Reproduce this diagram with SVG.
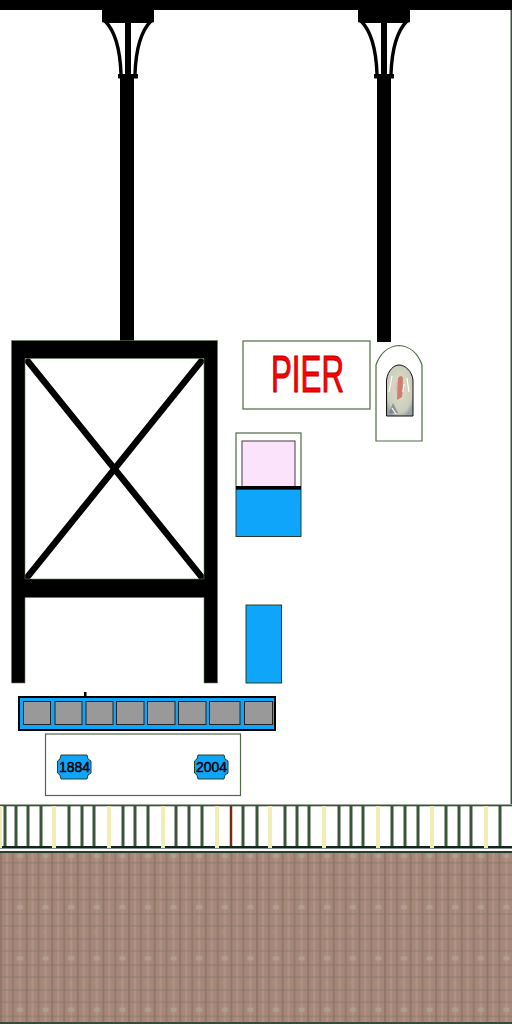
<svg xmlns="http://www.w3.org/2000/svg" width="512" height="1024" viewBox="0 0 512 1024">
<style>
.blk{fill:#000;stroke:#5f7f55;stroke-width:.6}
.box{fill:#fff;stroke:#4f6b45;stroke-width:1.2}
.blue{fill:#0fa5fb;stroke:#24402a;stroke-width:1}
.cell{fill:#999;stroke:#222;stroke-width:1}
.bar{stroke:#3a553a;stroke-width:3;fill:none}
.cream{stroke:#f0eeb4;stroke-width:4;fill:none}
.yr{font-family:"Liberation Sans",Arial,sans-serif;font-size:14px;fill:#000;stroke:#000;stroke-width:.5;text-anchor:middle}
.cv{fill:none;stroke:#000;stroke-width:3.400}
.dg{stroke:#000;stroke-width:6.500;fill:none}
</style>
<defs>
<pattern id="brick" width="25.6" height="51.2" patternUnits="userSpaceOnUse" x="0" y="853">
<rect width="25.6" height="51.2" fill="#a6887b"/>
<rect x="0" y="0" width="2" height="51.2" fill="#937869"/>
<rect x="6" y="0" width="2" height="51.2" fill="#b09286"/>
<rect x="12" y="0" width="2" height="51.2" fill="#957a6c"/>
<rect x="19" y="0" width="2" height="51.2" fill="#b29488"/>
<rect x="0" y="9" width="25.6" height="1.500" fill="#7d6e64" opacity=".45"/>
<rect x="0" y="21" width="25.6" height="1.500" fill="#7d6e64" opacity=".45"/>
<rect x="0" y="34" width="25.6" height="1.500" fill="#7d6e64" opacity=".45"/>
<rect x="0" y="46" width="25.6" height="1.500" fill="#7d6e64" opacity=".45"/>
<rect x="17" y="1" width="6" height="4" fill="#b3a59b" opacity=".7"/>
<rect x="17" y="27" width="2" height="2" fill="#b0965c" opacity=".8"/>
</pattern>
<g id="pillar">
<rect x="0" y="0" width="52" height="12" fill="#000"/>
<path d="M0 12H52V22L49 23H3L0 22Z" fill="#000"/>
<path class="cv" d="M3 21C11 29 18 46 19 74"/>
<path class="cv" d="M49 21C41 29 34 46 33 74"/>
<rect x="23" y="22" width="6" height="54" fill="#000"/>
<rect x="16" y="74" width="20" height="4.500" fill="#000"/>
</g>
<radialGradient id="saint" cx=".5" cy=".45" r=".6">
<stop offset="0" stop-color="#d9a59a"/><stop offset=".35" stop-color="#d8d6c4"/><stop offset=".8" stop-color="#c9cdbb"/><stop offset="1" stop-color="#9aa0a0"/>
</radialGradient>
</defs>

<rect width="512" height="1024" fill="#fff"/>
<rect x="510.500" y="0" width="1.500" height="804" fill="#3a5238"/>

<g id="beam"><rect x="0" y="0" width="512" height="10" fill="#000"/></g>

<g id="column-left">
<use href="#pillar" x="102" y="0"/>
<rect x="120" y="76" width="14" height="266" fill="#000"/>
</g>
<g id="column-right">
<use href="#pillar" x="358" y="0"/>
<rect x="377" y="76" width="14" height="266" fill="#000"/>
</g>

<g id="frame">
<path class="dg" d="M26 359L204 580M203 359L25 580"/>
<path class="blk" d="M11.500 340.500H217.500V683H204V597.500H25V683H11.500ZM25 358.500V579H204V358.500Z" fill-rule="evenodd"/>
</g>

<g id="pier-sign">
<rect class="box" x="243" y="341" width="127" height="68"/>
<text x="271" y="392" font-family="'Liberation Sans',Arial,sans-serif" font-size="51" textLength="73" lengthAdjust="spacingAndGlyphs" fill="#f00" stroke="#c00000" stroke-width="1.100">PIER</text>
</g>

<g id="niche">
<path class="box" d="M376 441V365C380 354 388 346 399 345.500C410 346 418 354 422 365V441Z"/>
<path d="M386.500 416V380C388 370 394 365 399 365C405 365 412 371 413 380V416Z" fill="url(#saint)" stroke="#111" stroke-width="1"/>
<path d="M398 378Q401 374 403 378L402 397L397 400Z" fill="#cf7d70"/>
<path d="M389 413L393 403L398 413Z" fill="#59657a" opacity=".55"/>
<path d="M392 376L389 392M407 378L409 392M392 408L396 414M404 384L403 392" stroke="#fff" stroke-width="1.200" fill="none"/>
</g>

<g id="pink-panel">
<rect class="box" x="236" y="433" width="65" height="55"/>
<rect x="242" y="441" width="53" height="46" fill="#fbe4fb" stroke="#443a44" stroke-width="1"/>
<rect class="blue" x="236" y="489" width="65" height="47.500"/>
<rect x="236" y="486" width="65" height="3.500" fill="#000"/>
</g>

<g id="blue-panel"><rect class="blue" x="246" y="605" width="35.500" height="78"/></g>

<g id="cell-bar">
<rect x="19" y="697" width="256" height="33" fill="#0fa5fb" stroke="#000" stroke-width="2"/>
<rect x="84" y="692" width="2.500" height="6" fill="#000"/>
<rect class="cell" x="23.500" y="701.500" width="27" height="23"/>
<rect class="cell" x="55" y="701.500" width="27" height="23"/>
<rect class="cell" x="86" y="701.500" width="27" height="23"/>
<rect class="cell" x="116.500" y="701.500" width="27.500" height="23"/>
<rect class="cell" x="147.500" y="701.500" width="27.500" height="23"/>
<rect class="cell" x="178.500" y="701.500" width="27.500" height="23"/>
<rect class="cell" x="209.500" y="701.500" width="30.500" height="23"/>
<rect class="cell" x="244.500" y="701.500" width="28" height="23"/>
</g>

<g id="dates">
<rect class="box" x="45.500" y="734" width="195" height="61.500"/>
<path class="blue" d="M61 755H87L88 759L91 761V773L88 775L87 779H61L60 775L57.500 773V761L60 759Z"/>
<text class="yr" x="74.500" y="772" textLength="31" lengthAdjust="spacingAndGlyphs">1884</text>
<path class="blue" d="M198 755H224L225 759L228 761V773L225 775L224 779H198L197 775L194.500 773V761L197 759Z"/>
<text class="yr" x="211.500" y="772" textLength="31" lengthAdjust="spacingAndGlyphs">2004</text>
</g>

<g id="railing">
<rect x="0" y="804.500" width="512" height="1.800" fill="#3a5238"/>
<rect x="0" y="846" width="512" height="2.500" fill="#15241a"/>
<rect x="0" y="851" width="512" height="2" fill="#25402a"/>
<path class="bar" d="M5 806V846M16 806V846M28 806V846M41 806V846M69 806V846M82 806V846M94 806V846M123 806V846M135 806V846M148 806V846M176 806V846M189 806V846M202 806V846M243 806V846M257 806V846M285 806V846M297 806V846M309 806V846M339 806V846M351 806V846M363 806V846M392 806V846M405 806V846M418 806V846M446 806V846M459 806V846M471 806V846M500 806V846"/>
<path d="M231 806V846" stroke="#7a2a14" stroke-width="2.500" fill="none"/>
<path class="cream" d="M0 806V848M54 806V848M109 806V848M163 806V848M217 806V848M270 806V848M324 806V848M378 806V848M432 806V848M486 806V848"/>
</g>

<g id="pavement">
<rect x="0" y="853" width="512" height="169" fill="url(#brick)"/>
<rect x="0" y="1022" width="512" height="2" fill="#3a4a38"/>
</g>
</svg>
